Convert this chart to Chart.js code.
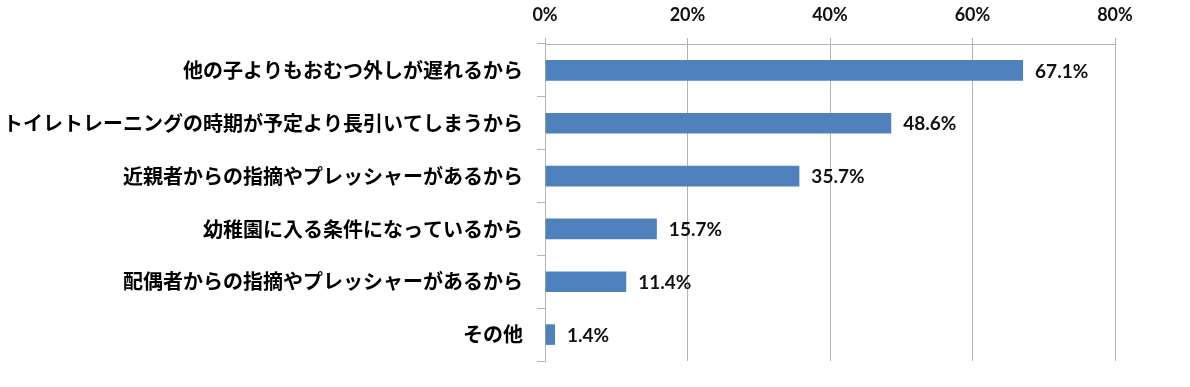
<!DOCTYPE html>
<html>
<head>
<meta charset="utf-8">
<script src="https://cdn.jsdelivr.net/npm/chart.js@4/dist/chart.umd.min.js"></script>
<style>
  html, body { margin: 0; padding: 0; background: #fff; }
  #wrap { width: 1190px; height: 387px; }
</style>
</head>
<body>
<div id="wrap"><canvas id="barChart" width="1190" height="387"></canvas></div>
<script>
// Categories and values
const categories = [
    '他の子よりもおむつ外しが遅れるから',
    'トイレトレーニングの時期が予定より長引いてしまうから',
    '近親者からの指摘やプレッシャーがあるから',
    '幼稚園に入る条件になっているから',
    '配偶者からの指摘やプレッシャーがあるから',
    'その他'
];
const percentValues = [67.1, 48.6, 35.7, 15.7, 11.4, 1.4];
const tickValues = [0, 20, 40, 60, 80];

const gridColor = '#b4b4b4';

// Draw the value labels next to each bar
const valueLabels = {
    id: 'valueLabels',
    afterDatasetsDraw(chart) {
        const ctx = chart.ctx;
        const meta = chart.getDatasetMeta(0);
        ctx.save();
        ctx.font = 'bold 19px Lato, "Noto Sans CJK JP", sans-serif';
        ctx.fillStyle = '#111';
        ctx.textAlign = 'left';
        ctx.textBaseline = 'middle';
        meta.data.forEach((bar, i) => {
            ctx.fillText(percentValues[i].toFixed(1) + '%', bar.x + 12, bar.y + 1);
        });
        ctx.restore();
    }
};

const ctx = document.getElementById('barChart').getContext('2d');
new Chart(ctx, {
    type: 'bar',
    data: {
        labels: categories,
        datasets: [{
            data: percentValues,
            backgroundColor: '#4f81bd',
            borderWidth: 0,
            barPercentage: 0.78,
            categoryPercentage: 0.5
        }]
    },
    options: {
        indexAxis: 'y',
        responsive: false,
        animation: false,
        layout: { padding: { left: 0, top: 0, right: 75, bottom: 21 } },
        plugins: {
            legend: { display: false },
            tooltip: { enabled: false }
        },
        scales: {
            x: {
                position: 'top',
                min: 0,
                max: 80,
                afterBuildTicks: scale => {
                    scale.ticks = tickValues.map(v => ({ value: v }));
                },
                afterFit: scale => { scale.height = 44; },
                ticks: {
                    callback: v => v + '%',
                    color: '#111',
                    padding: 12,
                    font: { family: 'Lato, sans-serif', size: 18, weight: 'bold' }
                },
                grid: {
                    color: gridColor,
                    lineWidth: 1,
                    tickLength: 6
                },
                border: { display: true, color: gridColor }
            },
            y: {
                afterFit: scale => { scale.width = 545; },
                ticks: {
                    color: '#000',
                    padding: 14,
                    font: { family: '"Noto Sans CJK JP", sans-serif', size: 20, weight: 'bold' }
                },
                grid: {
                    offset: true,
                    drawOnChartArea: false,
                    color: gridColor,
                    tickLength: 8
                },
                border: { display: true, color: gridColor }
            }
        }
    },
    plugins: [valueLabels]
});
</script>
</body>
</html>
